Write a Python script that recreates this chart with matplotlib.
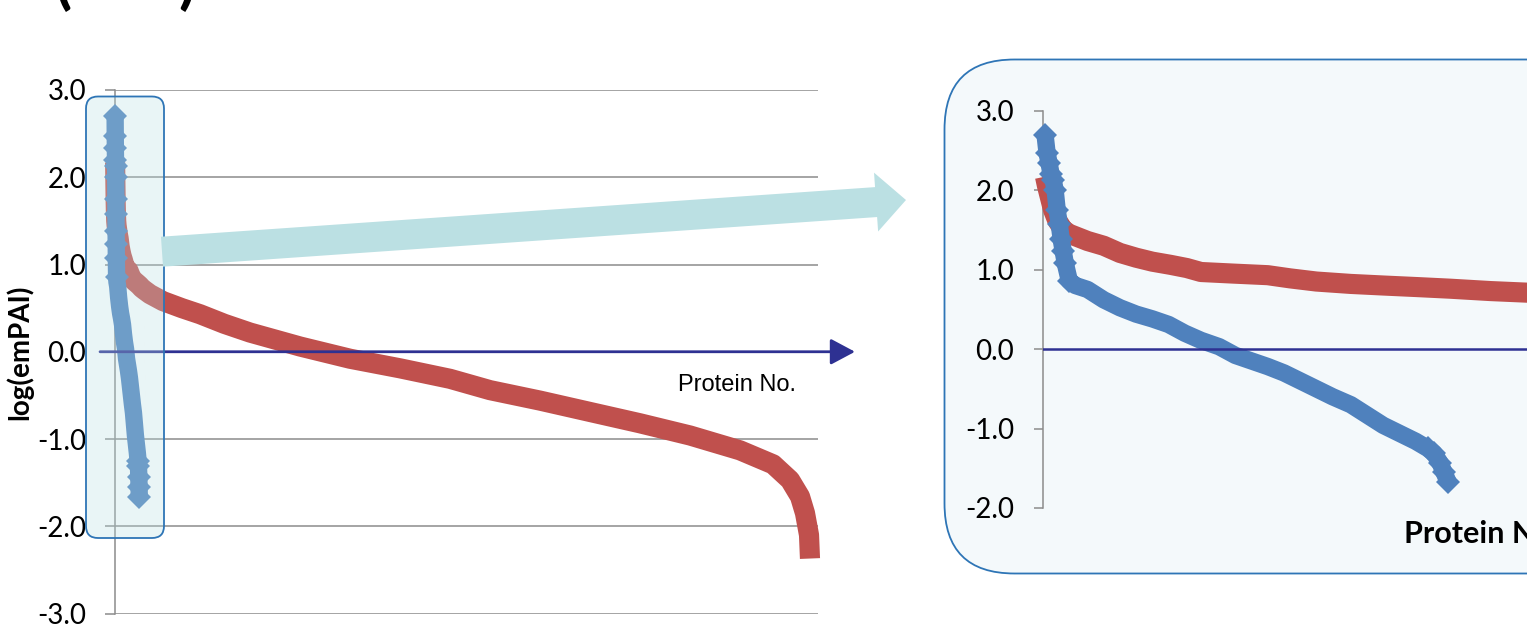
import matplotlib
matplotlib.use('Agg')
import matplotlib.pyplot as plt
from matplotlib.patches import FancyBboxPatch, FancyArrow
from matplotlib.ticker import FixedLocator, FormatStrFormatter

plt.rcParams['axes.unicode_minus'] = False
plt.rcParams['font.family'] = ['Lato', 'DejaVu Sans']

# ---------------- data (protein rank -> log(emPAI)) ----------------
blue_no = [1, 2, 3, 4, 5, 6, 7, 8, 9, 10, 11, 13, 16, 22, 30, 38, 46, 54, 62, 70,
           78, 87, 95, 103, 111, 119, 127, 135, 143, 152, 160, 168, 176, 184,
           190, 193, 196, 198, 200]
blue_val = [2.70, 2.47, 2.34, 2.20, 2.13, 2.00, 1.75, 1.58, 1.38, 1.23, 1.08, 0.86,
            0.80, 0.75, 0.62, 0.52, 0.44, 0.38, 0.31, 0.20, 0.11, 0.03, -0.08,
            -0.15, -0.22, -0.30, -0.40, -0.50, -0.60, -0.70, -0.83, -0.96, -1.06,
            -1.16, -1.25, -1.31, -1.43, -1.55, -1.67]

red_no = [1, 2, 3, 4, 5, 7, 10, 13, 22, 30, 38, 46, 54, 63, 71, 78, 94, 111, 122,
          135, 152, 168, 185, 201, 221, 239, 288, 395, 550, 700, 900, 1111, 1523,
          1934, 2346, 2757, 3086, 3498, 3909, 4321, 4733, 5144, 5416, 5556, 5638,
          5679, 5712, 5720]
red_val = [2.17, 2.05, 1.95, 1.85, 1.75, 1.62, 1.50, 1.45, 1.36, 1.30, 1.21, 1.15,
           1.10, 1.06, 1.02, 0.97, 0.95, 0.93, 0.89, 0.85, 0.82, 0.80, 0.78, 0.76,
           0.73, 0.71, 0.66, 0.58, 0.50, 0.43, 0.32, 0.22, 0.06, -0.08, -0.19,
           -0.31, -0.44, -0.56, -0.69, -0.82, -0.96, -1.13, -1.29, -1.47, -1.66,
           -1.85, -2.10, -2.37]

main_yticks = [3.0, 2.0, 1.0, 0.0, -1.0, -2.0, -3.0]
zoom_yticks = [3.0, 2.0, 1.0, 0.0, -1.0, -2.0]
x_label = "Protein No."
y_label = "log(emPAI)"
title_text = "(       )"

# ---------------- style ----------------
RED = '#C0504D'
BLUE = '#4F81BD'
NAVY = '#2E3192'
GRID = '#8C8C8C'
BORDER = '#2E75B6'
TEAL = '#BBE0E3'
RED_LW = 14.5
BLUE_LW = 12.5
DIAMOND = 12.5
# diamonds drawn where the reference shows separate markers (steep ends)
blue_marker_idx = list(range(0, 12)) + list(range(len(blue_no) - 5, len(blue_no)))

W, H = 1527, 637
fig = plt.figure(figsize=(W / 100, H / 100), dpi=100)
fig.patch.set_facecolor('white')


def frac(x0, y0, x1, y1):
    return [x0 / W, 1 - y1 / H, (x1 - x0) / W, (y1 - y0) / H]


# background overlay (pixel coordinates, y down)
bg = fig.add_axes([0, 0, 1, 1], zorder=0)
bg.set_xlim(0, W)
bg.set_ylim(H, 0)
bg.axis('off')
bg.add_patch(FancyBboxPatch((944.5, 59.5), 800, 514,
                            boxstyle='round,pad=0,rounding_size=70',
                            fc='#F4F9FB', ec=BORDER, lw=1.3))


def style_axis(ax, ticks, ticklen, pad):
    ax.set_facecolor('none')
    for s in ('top', 'right', 'bottom'):
        ax.spines[s].set_visible(False)
    ax.spines['left'].set_color(GRID)
    ax.spines['left'].set_linewidth(1.1)
    ax.yaxis.set_major_locator(FixedLocator(ticks))
    ax.yaxis.set_major_formatter(FormatStrFormatter('%.1f'))
    ax.set_xticks([])
    ax.tick_params(axis='y', length=ticklen, width=1.1, color=GRID,
                   labelsize=20, pad=pad, labelcolor='black')


def draw_series(ax):
    ax.plot(red_no, red_val, color=RED, lw=RED_LW, solid_capstyle='butt',
            solid_joinstyle='round', clip_on=False, zorder=3)
    ax.plot(blue_no, blue_val, color=BLUE, lw=BLUE_LW, marker='D', ms=DIAMOND,
            markevery=blue_marker_idx, mew=0, solid_capstyle='butt',
            solid_joinstyle='round', clip_on=False, zorder=4)


# ---------------- left (full) chart ----------------
ax1 = fig.add_axes(frac(115, 90, 818, 613.5), zorder=2)
ax1.set_xlim(0, 5786)
ax1.set_ylim(-3, 3)
style_axis(ax1, main_yticks, 7.2, 13.5)
ax1.grid(axis='y', color=GRID, lw=1.1)
ax1.set_axisbelow(True)
draw_series(ax1)
ax1.annotate('', xy=(1.0526, 0), xytext=(-0.0213, 0),
             xycoords=ax1.get_yaxis_transform(),
             textcoords=ax1.get_yaxis_transform(),
             arrowprops=dict(arrowstyle='-|>,head_length=0.75,head_width=0.4',
                             color=NAVY, lw=2, mutation_scale=20,
                             shrinkA=0, shrinkB=0), zorder=6)

# ---------------- right (zoomed) chart ----------------
ax2 = fig.add_axes(frac(1043, 110.7, 1527, 508), zorder=2)
ax2.set_xlim(0, 239)
ax2.set_ylim(-2, 3)
style_axis(ax2, zoom_yticks, 6.5, 14.4)
draw_series(ax2)
ax2.axhline(0, color=NAVY, lw=1.8, zorder=6)

# ---------------- foreground overlay ----------------
fg = fig.add_axes([0, 0, 1, 1], zorder=5)
fg.set_xlim(0, W)
fg.set_ylim(H, 0)
fg.axis('off')
fg.patch.set_alpha(0)
fg.add_patch(FancyBboxPatch((86, 96.5), 78, 441.5,
                            boxstyle='round,pad=0,rounding_size=12',
                            fc=(185 / 255, 224 / 255, 227 / 255, 0.3),
                            ec=BORDER, lw=1.3))
fg.add_patch(FancyArrow(162, 251.7, 744, -51.7, width=30, head_width=59,
                        head_length=30, length_includes_head=True,
                        color=TEAL, lw=0))
fg.text(678, 391, x_label, fontsize=17, family='Liberation Sans',
        va='baseline', ha='left')
fg.text(1404, 543, x_label, fontsize=22, fontweight='bold',
        va='baseline', ha='left')
fg.text(19, 352, y_label, rotation=90, fontsize=20, fontweight='bold',
        va='center', ha='center')
fg.text(55, 2, title_text, fontsize=45, fontweight='bold',
        va='baseline', ha='left')

fig.savefig('out.png', dpi=100)
